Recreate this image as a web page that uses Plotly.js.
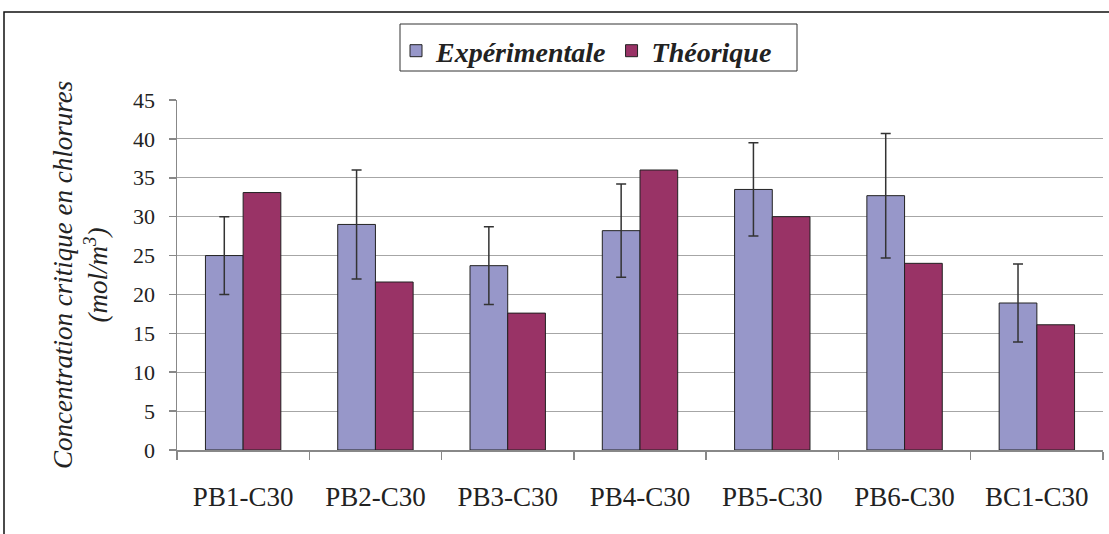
<!DOCTYPE html>
<html>
<head>
<meta charset="utf-8">
<script src="https://cdn.plot.ly/plotly-3.0.1.min.js"></script>
<style>html,body{margin:0;padding:0;background:#fff;}#chart{width:1109px;height:534px;}</style>
</head>
<body>
<div id="chart"></div>
<script>
const categories = ['PB1-C30','PB2-C30','PB3-C30','PB4-C30','PB5-C30','PB6-C30','BC1-C30'];
const experimentale = [25, 29, 23.7, 28.2, 33.5, 32.7, 18.9];
const experimentaleErr = [5, 7, 5, 6, 6, 8, 5];
const theorique = [33.1, 21.6, 17.6, 36, 30, 24, 16.1];
const seriesNames = ['Expérimentale', 'Théorique'];
const yTicks = [0,5,10,15,20,25,30,35,40,45];

const W = 1109, H = 534;
const mL = 177, mR = 6, mT = 100, mB = 84;
const plotW = W - mL - mR, plotH = H - mT - mB;
const px = x => (x - mL) / plotW;
const py = y => (H - mB - y) / plotH;

const serif = '"Liberation Serif", "Times New Roman", serif';

const traces = [
  {
    type: 'bar', name: seriesNames[0], x: categories, y: experimentale,
    marker: {color: '#9797C9', line: {color: '#222', width: 1}},
    error_y: {type: 'data', array: experimentaleErr, visible: true, color: '#333', thickness: 1.5, width: 5}
  },
  {
    type: 'bar', name: seriesNames[1], x: categories, y: theorique,
    marker: {color: '#993366', line: {color: '#222', width: 1}}
  }
];

const layout = {
  width: W, height: H,
  margin: {l: mL, r: mR, t: mT, b: mB, pad: 0},
  paper_bgcolor: '#fff', plot_bgcolor: '#fff',
  barmode: 'group', bargap: 0.43, bargroupgap: 0,
  font: {family: serif, color: '#222'},
  showlegend: true,
  legend: {
    orientation: 'h', x: px(396), y: py(26), xanchor: 'left', yanchor: 'top',
    borderwidth: 0, bgcolor: 'rgba(0,0,0,0)',
    font: {family: serif, size: 28, style: 'italic', weight: 'bold', color: '#222'},
    traceorder: 'normal'
  },
  xaxis: {
    type: 'category', tickson: 'boundaries', ticks: 'outside', ticklen: 8, tickcolor: '#888', tickwidth: 1.5,
    showline: true, linecolor: '#888', linewidth: 1.5, showgrid: false,
    tickfont: {family: serif, size: 27, color: '#222'}, ticklabelstandoff: 22,
    fixedrange: true
  },
  yaxis: {
    range: [0, 45], tickvals: yTicks, ticktext: yTicks.map(String),
    ticks: 'outside', ticklen: 7, tickcolor: '#888', tickwidth: 1.5,
    showline: true, linecolor: '#888', linewidth: 1.5,
    showgrid: true, gridcolor: '#a6a6a6', gridwidth: 1.2, zeroline: false,
    tickfont: {family: serif, size: 22, color: '#222'}, ticklabelstandoff: 9,
    fixedrange: true
  },
  annotations: [{
    xref: 'paper', yref: 'paper', x: px(80), y: 0.5, xanchor: 'center', yanchor: 'middle',
    textangle: -90, showarrow: false,
    text: 'Concentration critique en chlorures<br>(mol/m<sup>3</sup>)',
    font: {family: serif, size: 27, style: 'italic', color: '#222'}
  }],
  shapes: [
    {
      type: 'rect', xref: 'paper', yref: 'paper',
      x0: px(4), x1: px(1200), y0: py(700), y1: py(12),
      line: {color: '#111', width: 1.5}, fillcolor: 'rgba(0,0,0,0)', layer: 'below'
    },
    {
      type: 'rect', xref: 'paper', yref: 'paper',
      x0: px(400), x1: px(797), y0: py(71), y1: py(24),
      line: {color: '#333', width: 1}, fillcolor: '#fff', layer: 'below'
    }
  ]
};

Plotly.newPlot('chart', traces, layout, {displayModeBar: false, staticPlot: true});
</script>
</body>
</html>
